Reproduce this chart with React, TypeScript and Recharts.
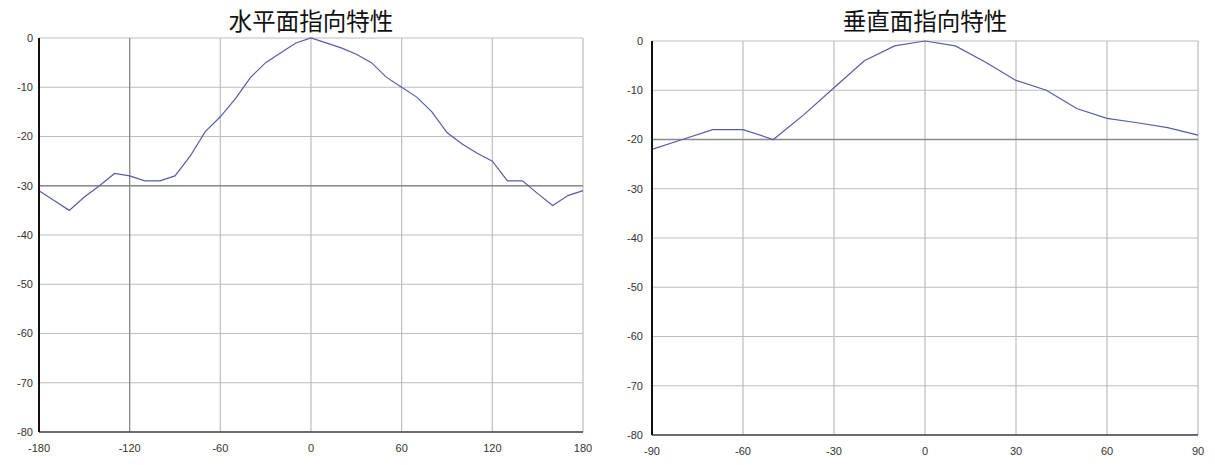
import React from "react";
import { LineChart, Line, XAxis, YAxis, CartesianGrid, ReferenceLine } from "recharts";

const hAngles = [-180, -170, -160, -150, -140, -130, -120, -110, -100, -90, -80, -70, -60, -50, -40, -30, -20, -10, 0, 10, 20, 30, 40, 50, 60, 70, 80, 90, 100, 110, 120, 130, 140, 150, 160, 170, 180];
const hValues = [-31, -33, -35, -32.3, -30, -27.5, -28, -29, -29, -28, -24, -19, -16, -12.3, -8, -5, -3, -1, 0, -1, -2, -3.3, -5, -8, -10, -12, -15, -19.2, -21.5, -23.4, -25, -29, -29, -31.6, -34, -32, -31];

const vAngles = [-90, -80, -70, -60, -50, -40, -30, -20, -10, 0, 10, 20, 30, 40, 50, 60, 70, 80, 90];
const vValues = [-22, -20, -18, -18, -20, -15, -9.5, -4, -1, 0, -1, -4.3, -8, -10, -13.7, -15.7, -16.6, -17.6, -19.1];

const hTicks = [-180, -120, -60, 0, 60, 120, 180];
const vTicks = [-90, -60, -30, 0, 30, 60, 90];
const yTicks = [-80, -70, -60, -50, -40, -30, -20, -10, 0];

const hTitle = "水平面指向特性";
const vTitle = "垂直面指向特性";

const hData = hAngles.map((a, i) => ({ a, v: hValues[i] }));
const vData = vAngles.map((a, i) => ({ a, v: vValues[i] }));

const tickStyle = { fontSize: 11, fill: "#333", fontFamily: "Liberation Sans, Arial, sans-serif" };
const titleStyle: React.CSSProperties = {
  position: "absolute",
  top: 3,
  fontSize: 23.5,
  fontFamily: "'Noto Sans CJK JP', sans-serif",
  color: "#111",
  textAlign: "center",
  whiteSpace: "nowrap",
};

function Panel(props: {
  data: { a: number; v: number }[];
  ticks: number[];
  domain: [number, number];
  width: number;
  top: number;
  right: number;
  bottom: number;
  yWidth: number;
  darkY: number;
  darkX?: number;
  yGap: number;
}) {
  const { data, ticks, domain, width, top, right, bottom, yWidth, darkY, darkX, yGap } = props;
  return (
    <LineChart width={width} height={465} data={data} margin={{ top, right, bottom: 0, left: 0 }}>
      <CartesianGrid stroke="#bdbdbd" strokeWidth={1.2} />
      <XAxis
        dataKey="a"
        type="number"
        domain={domain}
        ticks={ticks}
        interval={0}
        height={bottom}
        tickLine={false}
        tickSize={0}
        tickMargin={12}
        axisLine={{ stroke: "#444", strokeWidth: 1.5 }}
        tick={tickStyle}
      />
      <YAxis
        type="number"
        domain={[-80, 0]}
        ticks={yTicks}
        interval={0}
        width={yWidth}
        tickLine={false}
        tickSize={0}
        tickMargin={yGap}
        axisLine={{ stroke: "#111", strokeWidth: 2 }}
        tick={tickStyle}
      />
      <ReferenceLine y={darkY} stroke="#8a8a8a" strokeWidth={1.5} />
      {darkX !== undefined && <ReferenceLine x={darkX} stroke="#8a8a8a" strokeWidth={1.2} />}
      <Line
        type="linear"
        dataKey="v"
        stroke="#5a5aa8"
        strokeWidth={1.2}
        dot={false}
        isAnimationActive={false}
      />
    </LineChart>
  );
}

export default function App() {
  return (
    <div style={{ position: "absolute", left: 0, top: 0, width: 1215, height: 465, background: "#fff" }}>
      <div style={{ ...titleStyle, left: 211, width: 200 }}>{hTitle}</div>
      <div style={{ ...titleStyle, left: 825, width: 200 }}>{vTitle}</div>
      <div style={{ position: "absolute", left: 0, top: 0 }}>
        <Panel
          data={hData}
          ticks={hTicks}
          domain={[-180, 180]}
          width={600}
          top={38}
          right={17}
          bottom={33}
          yWidth={39}
          darkY={-30}
          darkX={-120}
          yGap={6}
        />
      </div>
      <div style={{ position: "absolute", left: 600, top: 0 }}>
        <Panel
          data={vData}
          ticks={vTicks}
          domain={[-90, 90]}
          width={615}
          top={41}
          right={17}
          bottom={30}
          yWidth={52}
          darkY={-20}
          yGap={9}
        />
      </div>
    </div>
  );
}
